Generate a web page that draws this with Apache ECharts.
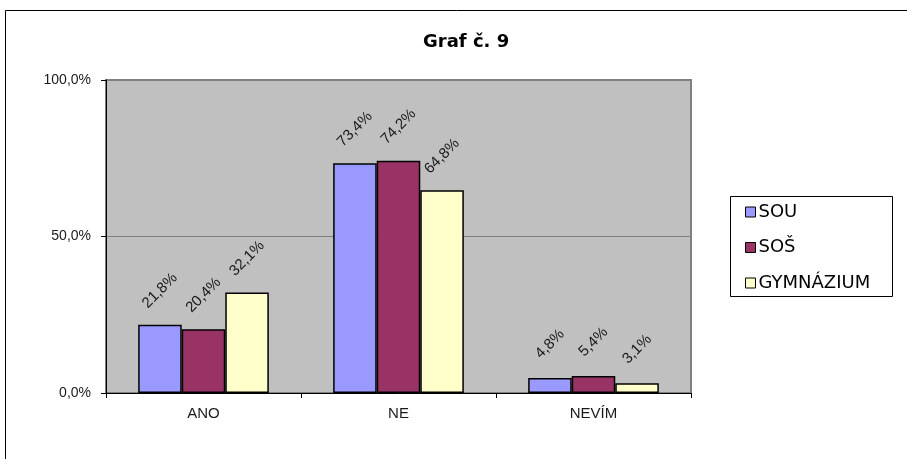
<!DOCTYPE html>
<html>
<head>
<meta charset="utf-8">
<script src="https://cdn.jsdelivr.net/npm/echarts@6/dist/echarts.min.js"></script>
<style>
html,body{margin:0;padding:0;background:#fff;}
#chart{width:907px;height:459px;}
</style>
</head>
<body>
<div id="chart"></div>
<script>
var categories = ['ANO', 'NE', 'NEVÍM'];
var seriesNames = ['SOU', 'SOŠ', 'GYMNÁZIUM'];
var sou = [21.8, 73.4, 4.8];
var sos = [20.4, 74.2, 5.4];
var gym = [32.1, 64.8, 3.1];
var yTicks = [0, 50, 100];
var titleText = 'Graf č. 9';

function pct(v) { return Number(v).toFixed(1).replace('.', ',') + '%'; }

var colors = ['#9999FF', '#993366', '#FFFFCC'];
var values = [sou, sos, gym];
var sansFont = "'Liberation Sans', Arial, sans-serif";

var labelStyle = {
  show: true,
  position: 'top',
  distance: 34,
  rotate: 45,
  align: 'center',
  verticalAlign: 'middle',
  fontFamily: sansFont,
  fontSize: 15,
  color: '#1a1a1a',
  formatter: function (p) { return pct(p.value); }
};

var chart = echarts.init(document.getElementById('chart'), null, { renderer: 'canvas' });
chart.setOption({
  animation: false,
  backgroundColor: '#ffffff',
  title: {
    text: titleText,
    left: 423,
    top: 33,
    padding: 0,
    textStyle: { fontFamily: "'DejaVu Sans', sans-serif", fontWeight: 'bold', fontSize: 18, color: '#000' }
  },
  graphic: [
    { type: 'rect', shape: { x: 5.5, y: 10.5, width: 1000, height: 1000 }, style: { fill: 'none', stroke: '#000', lineWidth: 1 }, silent: true, z: -1 },
    { type: 'rect', shape: { x: 730.5, y: 196.5, width: 162, height: 100 }, style: { fill: '#fff', stroke: '#000', lineWidth: 1 }, silent: true, z: 0 }
  ],
  legend: {
    orient: 'vertical',
    left: 745,
    top: 203,
    padding: 0,
    itemWidth: 10,
    itemHeight: 10,
    itemGap: 17.5,
    icon: 'rect',
    z: 5,
    itemStyle: { borderColor: '#000', borderWidth: 1 },
    textStyle: { fontFamily: "'DejaVu Sans', sans-serif", fontSize: 18, lineHeight: 18, color: '#000', padding: [0, 0, 0, -2] },
    data: seriesNames
  },
  grid: {
    left: 106,
    right: 216,
    top: 80,
    bottom: 66,
    show: true,
    backgroundColor: '#C0C0C0',
    borderColor: '#808080',
    borderWidth: 2
  },
  xAxis: {
    type: 'category',
    data: categories,
    axisLine: { lineStyle: { color: '#000', width: 1 } },
    axisTick: { show: true, length: 5, lineStyle: { color: '#000' } },
    axisLabel: { margin: 13, fontFamily: sansFont, fontSize: 15, color: '#1a1a1a' },
    splitLine: { show: false }
  },
  yAxis: {
    type: 'value',
    min: yTicks[0],
    max: yTicks[yTicks.length - 1],
    interval: yTicks[1] - yTicks[0],
    axisLine: { show: true, lineStyle: { color: '#000', width: 1 } },
    axisTick: { show: true, length: 5, lineStyle: { color: '#000' } },
    axisLabel: { margin: 15, fontFamily: sansFont, fontSize: 14, color: '#1a1a1a', formatter: function (v) { return pct(v); } },
    splitLine: { show: true, lineStyle: { color: '#808080', width: 1 } }
  },
  series: seriesNames.map(function (name, i) {
    return {
      name: name,
      type: 'bar',
      data: values[i],
      barGap: '0%',
      barCategoryGap: '33%',
      itemStyle: { color: colors[i], borderColor: '#000', borderWidth: 1.5 },
      label: labelStyle
    };
  })
});
</script>
</body>
</html>
